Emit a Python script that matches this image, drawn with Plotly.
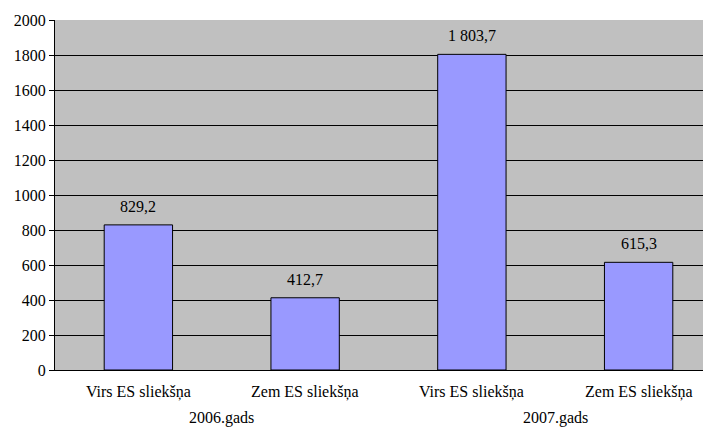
import plotly.graph_objects as go

# chart data
groups = ['2006.gads', '2007.gads']
subcats = ['Virs ES sliekšņa', 'Zem ES sliekšņa']
values = [829.2, 412.7, 1803.7, 615.3]

FONT = 'Liberation Serif'

def fmt(v):
    # latvian style: space for thousands, comma for decimals
    return f'{v:,.1f}'.replace(',', ' ').replace('.', ',')

xs = list(range(len(values)))
sub_labels = [s for g in groups for s in subcats]

fig = go.Figure()
fig.add_trace(go.Bar(x=xs, y=values, width=0.41,
                     marker=dict(color='#9999FF', line=dict(color='black', width=1))))

# value labels above bars
for x, v in zip(xs, values):
    fig.add_annotation(x=x, y=v, text=fmt(v), showarrow=False,
                       yanchor='bottom', yshift=8,
                       font=dict(family=FONT, size=16, color='black'))

# category labels under the axis
for x, s in zip(xs, sub_labels):
    fig.add_annotation(x=x, y=0, yref='paper', text=s, showarrow=False,
                       yanchor='middle', yshift=-22,
                       font=dict(family=FONT, size=16, color='black'))

n_sub = len(subcats)
for gi, g in enumerate(groups):
    center = gi * n_sub + (n_sub - 1) / 2
    fig.add_annotation(x=center, y=0, yref='paper', text=g, showarrow=False,
                       yanchor='middle', yshift=-48,
                       font=dict(family=FONT, size=16, color='black'))

fig.update_layout(width=703, height=422, margin=dict(l=47, r=0, t=12, b=60),
                  font=dict(family=FONT, size=16, color='black'),
                  plot_bgcolor='#C0C0C0', showlegend=False)
fig.update_xaxes(range=[-0.5, 3.434], showticklabels=False, ticks='',
                 showgrid=False, zeroline=False,
                 showline=True, linecolor='black', linewidth=1)
fig.update_yaxes(range=[0, 2000], dtick=200, gridcolor='black', gridwidth=1,
                 zeroline=False, showline=True, linecolor='black', linewidth=1,
                 ticks='outside', ticklen=5, tickcolor='black',
                 tickfont=dict(family=FONT, size=16))
fig.write_html('out.html')
